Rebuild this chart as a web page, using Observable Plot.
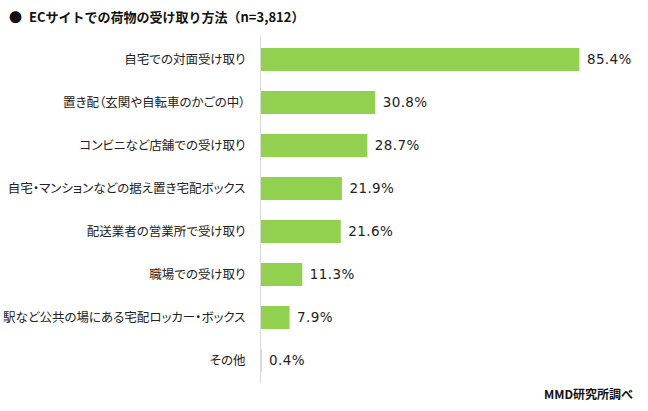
<!DOCTYPE html>
<html>
<head>
<meta charset="utf-8">
<script src="https://cdn.jsdelivr.net/npm/d3@7"></script>
<script src="https://cdn.jsdelivr.net/npm/@observablehq/plot@0.6"></script>
<style>
  body { margin: 0; background: #fff; font-family: "Noto Sans CJK JP", "Noto Sans", sans-serif; }
  #wrap { position: relative; width: 648px; height: 411px; }
  #title { position: absolute; left: 9px; top: 7px; font-size: 13px; font-weight: bold; color: #111; white-space: nowrap; }
  #title .dot { display: inline-block; width: 20px; }
  #caption { position: absolute; right: 15px; top: 385px; font-size: 12px; font-weight: bold; color: #111; }
  svg { display: block; }
  svg g[aria-label="y-axis tick label"] text { font-feature-settings: "palt"; }
  svg g[aria-label="text"] text { letter-spacing: 0.4px; }
</style>
</head>
<body>
<div id="wrap">
  <div id="chart"></div>
  <div id="title"><span class="dot">●</span>ECサイトでの荷物の受け取り方法（n=3,812）</div>
  <div id="caption">MMD研究所調べ</div>
</div>
<script>
const categories = [
  "自宅での対面受け取り",
  "置き配（玄関や自転車のかごの中）",
  "コンビニなど店舗での受け取り",
  "自宅・マンションなどの据え置き宅配ボックス",
  "配送業者の営業所で受け取り",
  "職場での受け取り",
  "駅など公共の場にある宅配ロッカー・ボックス",
  "その他"
];
const values = [85.4, 30.8, 28.7, 21.9, 21.6, 11.3, 7.9, 0.4];
const valueLabels = ["85.4%", "30.8%", "28.7%", "21.9%", "21.6%", "11.3%", "7.9%", "0.4%"];

const data = categories.map((c, i) => ({category: c, value: values[i], label: valueLabels[i]}));

const chart = Plot.plot({
  width: 648,
  height: 411,
  marginTop: 36,
  marginBottom: 28,
  marginLeft: 260,
  marginRight: 14,
  style: {fontFamily: "'Noto Sans CJK JP', 'Noto Sans', sans-serif", fontSize: "12.5px", color: "#222"},
  x: {domain: [0, 100], axis: null},
  y: {domain: categories, paddingInner: 0.47, paddingOuter: 0.25, label: null, tickSize: 0, tickPadding: 15},
  marks: [
    Plot.barX(data, {x: "value", y: "category", fill: "#92D050"}),
    Plot.ruleX([0], {stroke: "#d9d9d9", strokeWidth: 1}),
    Plot.text(data, {x: "value", y: "category", text: "label", textAnchor: "start", dx: 7, fill: "#222", fontSize: 13.5, fontFamily: "'DejaVu Sans', Verdana, sans-serif"})
  ]
});
document.getElementById("chart").appendChild(chart);
</script>
</body>
</html>
